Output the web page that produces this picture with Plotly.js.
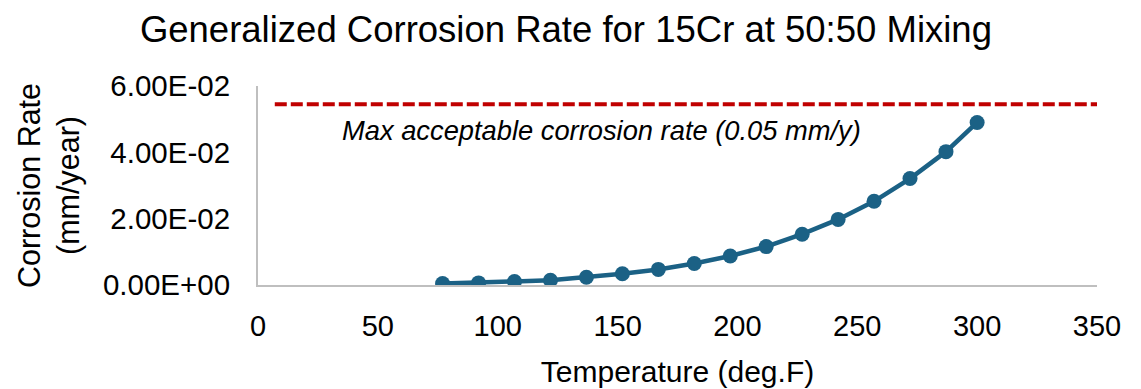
<!DOCTYPE html>
<html>
<head>
<meta charset="utf-8">
<script src="https://cdn.plot.ly/plotly-3.0.1.min.js"></script>
<style>html,body{margin:0;padding:0;background:#fff;}#chart{width:1141px;height:389px;}</style>
</head>
<body>
<div id="chart"></div>
<script>
// Data
const temperatureF = [77, 92, 107, 122, 137, 152, 167, 182, 197, 212, 227, 242, 257, 272, 287, 300];
const corrosionRate = [0.00045, 0.00063, 0.00106, 0.00145, 0.00235, 0.00338, 0.0047, 0.0065, 0.00874, 0.01158, 0.01532, 0.01978, 0.02523, 0.0321, 0.0402, 0.0490];
const maxLimitX = [7, 350];
const maxLimitY = [0.0545, 0.0545];
const yTickVals = [0, 0.02, 0.04, 0.06];
const yTickText = ["0.00E+00", "2.00E-02", "4.00E-02", "6.00E-02"];
const xTickVals = [0, 50, 100, 150, 200, 250, 300, 350];

const traces = [
  {
    x: maxLimitX, y: maxLimitY, type: 'scatter', mode: 'lines',
    line: {color: '#c00000', width: 4, dash: '12px,4px'},
    hoverinfo: 'skip', showlegend: false
  },
  {
    x: temperatureF, y: corrosionRate, type: 'scatter', mode: 'lines+markers',
    line: {color: '#1b6185', width: 4.5},
    marker: {color: '#1b6185', size: 15},
    showlegend: false
  }
];

const layout = {
  width: 1141, height: 389,
  margin: {l: 258, r: 44, t: 86, b: 104},
  paper_bgcolor: '#ffffff', plot_bgcolor: '#ffffff',
  font: {family: 'Liberation Sans, Arial, sans-serif', color: '#000000'},
  title: {
    text: 'Generalized Corrosion Rate for 15Cr at 50:50 Mixing',
    font: {family: 'Liberation Sans, Arial, sans-serif', size: 36.5, color: '#000000'},
    x: 0.496, xanchor: 'center', y: 0.925, yanchor: 'middle'
  },
  xaxis: {
    range: [0, 350], tickvals: xTickVals, ticks: '', showgrid: false, zeroline: false,
    showline: true, linecolor: '#bfbfbf', linewidth: 2,
    tickfont: {size: 29},
    ticklabelstandoff: 14,
    title: {text: 'Temperature (deg.F)', font: {size: 30}, standoff: 20},
    fixedrange: true
  },
  yaxis: {
    range: [0, 0.06], tickvals: yTickVals, ticktext: yTickText, ticks: '', showgrid: false, zeroline: false,
    showline: true, linecolor: '#bfbfbf', linewidth: 2,
    tickfont: {size: 29.5},
    ticklabelstandoff: 20,
    title: {text: 'Corrosion Rate<br>(mm/year)', font: {size: 30.5}, standoff: 14},
    fixedrange: true
  },
  annotations: [
    {
      x: 0.0975, xref: 'paper', xanchor: 'left', y: 0.0466, yref: 'y', yanchor: 'middle',
      text: 'Max acceptable corrosion rate (0.05 mm/y)', showarrow: false,
      font: {size: 27.3, style: 'italic', family: 'Liberation Sans, Arial, sans-serif', color: '#000000'}
    }
  ]
};

Plotly.newPlot('chart', traces, layout, {displayModeBar: false, staticPlot: true});
</script>
</body>
</html>
